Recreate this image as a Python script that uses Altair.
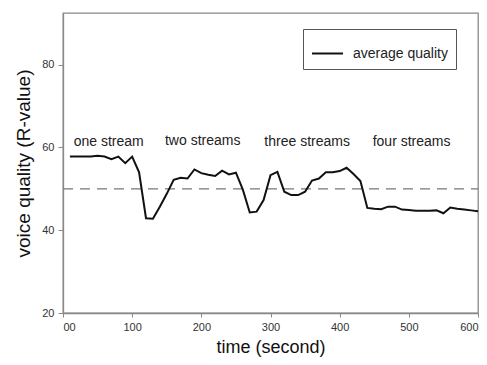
import altair as alt
import pandas as pd

times = list(range(10, 601, 10))
quality = [57.8, 57.8, 57.8, 57.8, 58.0, 57.8, 57.2, 57.8, 56.2, 57.8,
           54.0, 42.9, 42.8, 45.7, 48.8, 52.2, 52.7, 52.5, 54.7, 53.8,
           53.4, 53.1, 54.4, 53.5, 53.9, 49.8, 44.3, 44.5, 47.3, 53.3,
           54.1, 49.3, 48.5, 48.5, 49.3, 52.0, 52.5, 54.0, 54.0, 54.3,
           55.1, 53.6, 51.9, 45.4, 45.2, 45.1, 45.7, 45.7, 45.0, 44.9,
           44.7, 44.7, 44.7, 44.8, 44.1, 45.5, 45.2, 45.0, 44.8, 44.6]

label_text = ["one stream", "two streams", "three streams", "four streams"]
label_x = [66, 202, 353, 504]
label_y = [61.3, 61.5, 61.3, 61.3]

threshold = 50
series_name = "average quality"

df = pd.DataFrame({"t": times, "q": quality, "s": [series_name] * len(times)})
lab = pd.DataFrame({"t": label_x, "q": label_y, "txt": label_text})
thr = pd.DataFrame({"t": [0], "t2": [600], "q": [threshold]})

FONT = "Liberation Sans"

xscale = alt.Scale(domain=[0, 600], nice=False)
yscale = alt.Scale(domain=[20, 92.5], nice=False, zero=False)

xaxis = alt.Axis(title="time (second)", values=[0, 100, 200, 300, 400, 500, 600],
                 labelExpr="datum.value == 0 ? '00' : datum.label",
                 grid=False, tickSize=4, labelPadding=4,
                 titleY=39, titleBaseline="alphabetic", titleFontSize=18)
yaxis = alt.Axis(title="voice quality (R-value)", values=[20, 40, 60, 80],
                 grid=False, tickSize=5, labelPadding=4, titlePadding=8)

line = alt.Chart(df).mark_line(strokeWidth=2, color="#111").encode(
    x=alt.X("t:Q", scale=xscale, axis=xaxis),
    y=alt.Y("q:Q", scale=yscale, axis=yaxis),
    color=alt.Color("s:N", scale=alt.Scale(range=["#111"]),
                    legend=alt.Legend(title=None, orient="none", legendX=240, legendY=16,
                                      symbolType="stroke", symbolSize=961,
                                      symbolStrokeWidth=2, strokeColor="#555",
                                      fillColor="white", padding=8,
                                      labelFontSize=14, labelFont=FONT,
                                      labelColor="#222", labelOffset=9)),
)

dash = alt.Chart(thr).mark_rule(color="#777", strokeDash=[10, 7], strokeWidth=1.3).encode(
    x="t:Q", x2="t2:Q", y="q:Q"
)

text = alt.Chart(lab).mark_text(font=FONT, fontSize=14, color="#222", baseline="middle").encode(
    x="t:Q", y="q:Q", text="txt:N"
)

chart = alt.layer(dash, line, text).properties(
    width=415, height=300,
    autosize=alt.AutoSizeParams(type="none"),
    padding={"left": 55, "top": 5, "right": 1, "bottom": 44},
).configure_view(stroke="#888", strokeWidth=1.3).configure_axis(
    domainColor="#888", tickColor="#888", labelFont=FONT, labelFontSize=11,
    labelColor="#333", titleFont=FONT, titleFontSize=19, titleColor="#111",
    titleFontWeight="normal", domainWidth=1.3
)

chart.save("out.html", embed_options={"renderer": "svg", "actions": False})
